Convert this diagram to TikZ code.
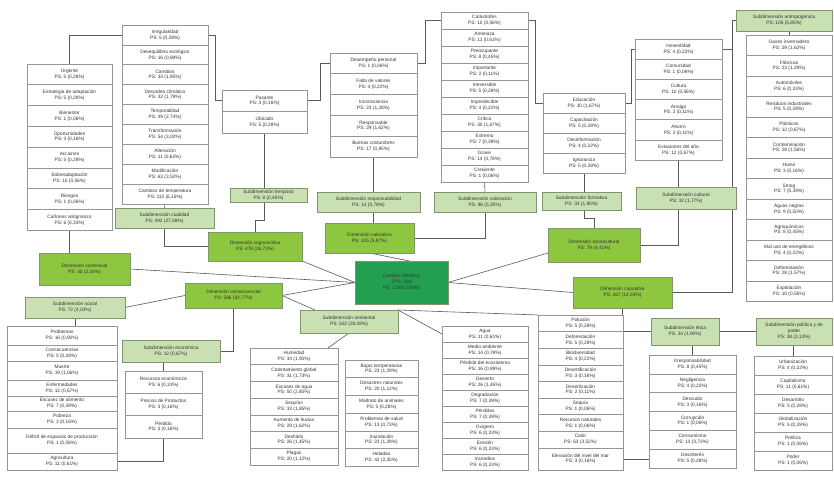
\documentclass[tikz,border=0pt]{standalone}
\usepackage{fontspec}
\setmainfont{Liberation Sans}
\usetikzlibrary{calc}
\definecolor{dimc}{RGB}{141,198,63}
\definecolor{subc}{RGB}{200,224,178}
\definecolor{cenc}{RGB}{34,160,80}
\definecolor{bordc}{RGB}{150,150,150}
\definecolor{subbord}{RGB}{130,150,110}
\definecolor{lnc}{RGB}{90,90,90}
\pgfdeclarelayer{bg}
\pgfsetlayers{bg,main}
\tikzset{
 box/.style={draw=bordc, line width=0.6pt, inner sep=1pt, outer sep=0pt, align=center, font=\fontsize{4.8}{5.8}\selectfont, text=black!80},
 leaf/.style={box, fill=white},
 subd/.style={box, fill=subc, draw=subbord},
 dimb/.style={box, fill=dimc, draw=subbord},
 cen/.style={box, fill=cenc, draw=subbord},
 link/.style={draw=lnc, line width=0.6pt},
}
% box by corners: style, x1, y1, x2, y2, name, text
\newcommand\bx[7]{\node[#1, minimum width={#4-#2}, minimum height={#5-#3}] (#6) at ({(#2+#4)/2},{(#3+#5)/2}) {#7};}
% stack: prefix, xleft, xright, ytop, list {text}/height
\newcommand\stk[5]{%
 \node[inner sep=0pt, outer sep=0pt, minimum width={#3-#2}, minimum height=0pt, anchor=north west] (#1-0) at (#2,#4) {};
 \foreach \t/\hh [count=\i, remember=\i as \j (initially 0)] in {#5} {
   \node[leaf, minimum width={#3-#2}, minimum height=\hh, anchor=north] (#1-\i) at (#1-\j.south) {\t};
 }%
}
\begin{document}
\begin{tikzpicture}[x=1pt,y=-1pt]
\useasboundingbox (0,0) rectangle (834,478);
\begin{pgfonlayer}{bg}
\fill[white] (0,0) rectangle (834,478);
\end{pgfonlayer}

% ---------- leaf columns ----------
\stk{A}{27}{112}{64}{{Urgente\\PS: 5 (0,28\%)}/20.8,{Estrategia de adaptación\\PS: 5 (0,28\%)}/20.8,{Bienestar\\PS: 1 (0,06\%)}/20.8,{Oportunidades\\PS: 3 (0,16\%)}/20.8,{Acciones\\PS: 5 (0,28\%)}/20.8,{Sobreadaptación\\PS: 10 (0,56\%)}/20.8,{Riesgos\\PS: 1 (0,06\%)}/20.8,{Cañones antigranizo\\PS: 6 (0,33\%)}/20.8}

\stk{B}{122}{208}{25}{{Irregularidad\\PS: 5 (0,28\%)}/19.9,{Desequilibrio ecológico\\PS: 16 (0,89\%)}/19.9,{Cambios\\PS: 33 (1,85\%)}/19.9,{Desorden climático\\PS: 32 (1,79\%)}/19.9,{Temporalidad\\PS: 49 (2,74\%)}/19.9,{Transformación\\PS: 54 (3,02\%)}/19.9,{Alteración\\PS: 11 (0,62\%)}/19.9,{Modificación\\PS: 63 (3,52\%)}/19.9,{Cambios de temperatura\\PS: 110 (6,15\%)}/19.9}

\stk{T}{222}{307}{90}{{Pasante\\PS: 3 (0,16\%)}/21.5,{Ubicado\\PS: 5 (0,28\%)}/21.5}

\stk{C}{330}{417}{53}{{Desempeño personal\\PS: 1 (0,06\%)}/20.8,{Falta de valores\\PS: 4 (0,22\%)}/20.8,{Inconsciencia\\PS: 23 (1,28\%)}/20.8,{Responsable\\PS: 29 (1,62\%)}/20.8,{Buenas costumbres\\PS: 17 (0,95\%)}/20.8}

\stk{D}{441}{528}{12}{{Catástrofes\\PS: 10 (0,56\%)}/17,{Amenaza\\PS: 11 (0,61\%)}/17,{Preocupante\\PS: 8 (0,45\%)}/17,{Importante\\PS: 2 (0,11\%)}/17,{Irreversible\\PS: 5 (0,28\%)}/17,{Impredecible\\PS: 4 (0,22\%)}/17,{Crítico\\PS: 30 (1,67\%)}/17,{Extremo\\PS: 7 (0,39\%)}/17,{Grave\\PS: 14 (0,78\%)}/17,{Creciente\\PS: 1 (0,06\%)}/17}

\stk{E}{543}{625}{93}{{Educación\\PS: 30 (1,67\%)}/20,{Capacitación\\PS: 5 (0,28\%)}/20,{Desinformación\\PS: 4 (0,22\%)}/20,{Ignorancia\\PS: 5 (0,28\%)}/20}

\stk{F}{635}{722}{39}{{Honestidad\\PS: 4 (0,22\%)}/20.2,{Comunidad\\PS: 1 (0,06\%)}/20.2,{Cultura\\PS: 10 (0,56\%)}/20.2,{Arraigo\\PS: 2 (0,11\%)}/20.2,{Ahorro\\PS: 2 (0,11\%)}/20.2,{Estaciones del año\\PS: 12 (0,67\%)}/20.2}

\stk{G}{746}{832}{35}{{Gases invernadero\\PS: 29 (1,62\%)}/20.5,{Fábricas\\PS: 23 (1,29\%)}/20.5,{Automóviles\\PS: 6 (0,33\%)}/20.5,{Residuos industriales\\PS: 5 (0,28\%)}/20.5,{Plásticos\\PS: 12 (0,67\%)}/20.5,{Contaminación\\PS: 28 (1,56\%)}/20.5,{Humo\\PS: 3 (0,16\%)}/20.5,{Smog\\PS: 7 (0,39\%)}/20.5,{Aguas negras\\PS: 9 (0,50\%)}/20.5,{Agroquímicos\\PS: 8 (0,45\%)}/20.5,{Mal uso de energéticos\\PS: 4 (0,22\%)}/20.5,{Deforestación\\PS: 28 (1,57\%)}/20.5,{Explotación\\PS: 10 (0,56\%)}/20.5}

\stk{H}{649}{736}{355}{{Irresponsabilidad\\PS: 8 (0,45\%)}/18.8,{Negligencia\\PS: 4 (0,22\%)}/18.8,{Descuido\\PS: 3 (0,16\%)}/18.8,{Corrupción\\PS: 1 (0,06\%)}/18.8,{Consumismo\\PS: 13 (0,73\%)}/18.8,{Desinterés\\PS: 5 (0,28\%)}/18.8}

\stk{J}{754}{832}{356}{{Urbanización\\PS: 4 (0,22\%)}/19,{Capitalismo\\PS: 11 (0,61\%)}/19,{Desarrollo\\PS: 5 (0,28\%)}/19,{Globalización\\PS: 5 (0,28\%)}/19,{Política\\PS: 1 (0,06\%)}/19,{Poder\\PS: 1 (0,06\%)}/19}

\stk{K}{7}{117}{326}{{Problemas\\PS: 16 (0,90\%)}/19,{Consecuencias\\PS: 5 (0,28\%)}/16,{Muerte\\PS: 19 (1,06\%)}/19,{Enfermedades\\PS: 12 (0,67\%)}/16,{Escasez de alimento\\PS: 7 (0,39\%)}/15,{Pobreza\\PS: 3 (0,16\%)}/17,{Déficit de espacios de producción\\PS: 1 (0,06\%)}/25,{Agricultura\\PS: 11 (0,61\%)}/17}

\stk{L}{125}{202}{371}{{Recursos económicos\\PS: 6 (0,33\%)}/22.3,{Precios de Productos\\PS: 3 (0,16\%)}/22.3,{Pérdida\\PS: 3 (0,16\%)}/22.3}

\stk{M}{250}{338}{348}{{Humedad\\PS: 34 (1,90\%)}/16.7,{Calentamiento global\\PS: 31 (1,73\%)}/16.7,{Escasez de agua\\PS: 50 (2,80\%)}/16.7,{Sequías\\PS: 33 (1,85\%)}/16.7,{Aumento de lluvias\\PS: 29 (1,62\%)}/16.7,{Deshielo\\PS: 26 (1,45\%)}/16.7,{Plagas\\PS: 20 (1,12\%)}/16.7}

\stk{Q}{345}{418}{360}{{Bajas temperaturas\\PS: 23 (1,29\%)}/17.7,{Desastres naturales\\PS: 20 (1,12\%)}/17.7,{Maltrato de animales\\PS: 5 (0,28\%)}/17.7,{Problemas de salud\\PS: 13 (0,73\%)}/17.7,{Inundación\\PS: 23 (1,29\%)}/17.7,{Heladas\\PS: 42 (2,35\%)}/17.7}

\stk{O}{442}{528}{326}{{Agua\\PS: 11 (0,61\%)}/16,{Medio ambiente\\PS: 14 (0,78\%)}/16,{Pérdida del ecosistema\\PS: 16 (0,89\%)}/16,{Desierto\\PS: 26 (1,45\%)}/16,{Degradación\\PS: 7 (0,39\%)}/16,{Pérdidas\\PS: 7 (0,39\%)}/16,{Oxígeno\\PS: 6 (0,33\%)}/16,{Erosión\\PS: 6 (0,33\%)}/16,{Incendios\\PS: 6 (0,33\%)}/16}

\stk{N}{538}{623}{315}{{Polución\\PS: 5 (0,28\%)}/16.6,{Deforestación\\PS: 5 (0,28\%)}/16.6,{Biodiversidad\\PS: 4 (0,22\%)}/16.6,{Desertificación\\PS: 3 (0,16\%)}/16.6,{Desertización\\PS: 2 (0,11\%)}/16.6,{Sequía\\PS: 1 (0,06\%)}/16.6,{Recursos naturales\\PS: 1 (0,06\%)}/16.6,{Calor\\PS: 63 (3,52\%)}/16.6,{Elevación del nivel del mar\\PS: 3 (0,16\%)}/22}

% ---------- subdimensions ----------
\bx{subd}{115}{208}{214}{228}{SQ}{Subdimensión cualidad\\PS: 492 (27,08\%)}
\bx{subd}{230}{188}{307}{202}{ST}{Subdimensión temporal\\PS: 8 (0,45\%)}
\bx{subd}{317}{192}{420}{212}{SR}{Subdimensión responsabilidad\\PS: 14 (0,78\%)}
\bx{subd}{434}{192}{536}{212}{SV}{Subdimensión valoración\\PS: 96 (5,35\%)}
\bx{subd}{542}{192}{621}{210}{SF}{Subdimensión formativa\\PS: 34 (1,90\%)}
\bx{subd}{636}{187}{736}{209}{SC}{Subdimensión cultural\\PS: 32 (1,77\%)}
\bx{subd}{736}{10}{832}{31}{SA}{Subdimensión antropogénica\\PS: 105 (5,85\%)}
\bx{subd}{25}{297}{125}{318}{SS}{Subdimensión social\\PS: 72 (4,03\%)}
\bx{subd}{122}{340}{220}{362}{SE}{Subdimensión económica\\PS: 12 (0,67\%)}
\bx{subd}{300}{310}{398}{333}{SM}{Subdimensión ambiental\\PS: 502 (28,08\%)}
\bx{subd}{651}{318}{719}{345}{SET}{Subdimensión ética\\PS: 34 (1,90\%)}
\bx{subd}{756}{318}{832}{345}{SP}{Subdimensión política y de\\poder\\PS: 38 (2,13\%)}

% ---------- dimensions ----------
\bx{dimb}{39}{253}{130}{285}{ctx}{Dimensión contextual\\PS: 40 (2,24\%)}
\bx{dimb}{208}{232}{302}{261}{cog}{Dimensión cognoscitiva\\PS: 478 (26,73\%)}
\bx{dimb}{325}{223}{414}{253}{val}{Dimensión valorativa\\PS: 105 (5,87\%)}
\bx{dimb}{548}{228}{640}{262}{soc}{Dimensión sociocultural\\PS: 79 (4,41\%)}
\bx{dimb}{573}{277}{672}{308}{cau}{Dimensión causativa\\PS: 267 (14,93\%)}
\bx{dimb}{185}{283}{282}{308}{con}{Dimensión consecuencial\\PS: 586 (32,77\%)}
\bx{cen}{355}{261}{448}{304}{cc}{Cambio climático\\TPS: 130\\PS: 1788 (100\%)}

% ---------- connectors ----------
\begin{pgfonlayer}{bg}
\draw[link] (A-1.north) |- (B-1.west);
\draw[link] (B-1.east) -- ++(7,0) |- (T-1.west);
\draw[link] (T-1.east) -- ++(13,0) |- (C-1.west);
\draw[link] (C-1.east) -- ++(8,0) |- (D-1.west);
\draw[link] (D-1.east) -- ++(7,0) |- (E-1.west);
\draw[link] (E-1.east) -- ++(6,0) |- (F-1.west);
\draw[link] (F-1.east) -- ++(10,0) coordinate (fk) |- (SA.west);
\draw[link] (fk) |- (cau.east);
\draw[link] (G-1.north) -- (G-1.north |- SA.south);
\draw[link] (F-6.south) -- (F-6.south |- SC.north);
\draw[link] (F-6.south |- SC.south) |- (soc.east);
\draw[link] (E-4.south) -- (E-4.south |- SF.north);
\draw[link] (E-4.south |- SF.south) -- ++(0,8) -| (soc.north);
\draw[link] (D-10.south) -- (SV.north);
\draw[link] (SV.south) |- (val.east);
\draw[link] (C-5.south) -- (C-5.south |- SR.north);
\draw[link] (C-5.south |- SR.south) -- (C-5.south |- val.north);
\draw[link] (T-2.south) -- (T-2.south |- ST.north);
\draw[link] (T-2.south |- ST.south) -- ++(0,18) -| (cog.north);
\draw[link] (B-9.south) -- (SQ.north);
\draw[link] (SQ.south) |- (cog.west);
\draw[link] (A-8.south) -- (A-8.south |- ctx.north);
% to the centre
\draw[link] (ctx.east) -- (cc.west);
\draw[link] (cog.south east) -- (cc.west);
\draw[link] (con.east) -- (cc.west);
\draw[link] (val.south) -- ([xshift=8pt]cc.north);
\draw[link] (cc.east) -- ([yshift=-8pt]soc.west);
\draw[link] (cc.east) -- (cau.west);
% consecuencial branch
\draw[link] (SS.east) -- (con.west);
\draw[link] (SS.south) -- (SS.south |- K-1.north);
\draw[link] (con.south) |- (SE.east);
\draw[link] (L-1.north) -- (L-1.north |- SE.south);
\draw[link] (K-8.east) -| (L-3.south);
\draw[link] (con.east) -- ([xshift=15pt]SM.north west);
\draw[link] (SM.south) -- ([xshift=-10pt]M-1.north east);
\draw[link] (SM.north east) -- (O-1.west);
\draw[link] (SM.north east) -- (N-1.north west);
% causativa branch
\draw[link] (cau.south) |- (SET.west);
\draw[link] (SET.east) -- (SP.west);
\draw[link] (H-1.north) -- (H-1.north |- SET.south);
\draw[link] (J-1.north) -- (J-1.north |- SP.south);
\draw[link] (N-9.east) -- (N-9.east -| H-6.west);
\end{pgfonlayer}
\end{tikzpicture}
\end{document}
